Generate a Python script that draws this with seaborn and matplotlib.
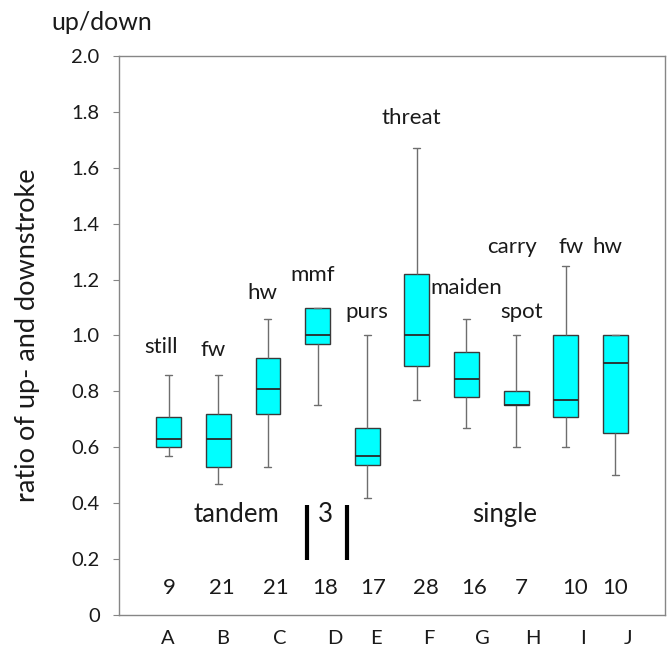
import numpy as np
import pandas as pd
import seaborn as sns
import matplotlib
matplotlib.use("Agg")
import matplotlib.pyplot as plt

# ---- data (five-number summaries) ----
categories = ["A", "B", "C", "D", "E", "F", "G", "H", "I", "J"]
lows  = [0.57, 0.47, 0.53, 0.75, 0.42, 0.77, 0.67, 0.60, 0.60, 0.50]
q1s   = [0.60, 0.53, 0.72, 0.97, 0.535, 0.89, 0.78, 0.75, 0.71, 0.65]
meds  = [0.63, 0.63, 0.81, 1.00, 0.57, 1.00, 0.845, 0.75, 0.77, 0.90]
q3s   = [0.71, 0.72, 0.92, 1.10, 0.67, 1.22, 0.94, 0.80, 1.00, 1.00]
highs = [0.86, 0.86, 1.06, 1.10, 1.00, 1.67, 1.06, 1.00, 1.25, 1.00]
counts = [9, 21, 21, 18, 17, 28, 16, 7, 10, 10]
behaviours = ["still", "fw", "hw", "mmf", "purs", "threat", "maiden", "spot", "carry", "fw", "hw"]
yticks = [0, 0.2, 0.4, 0.6, 0.8, 1.0, 1.2, 1.4, 1.6, 1.8, 2.0]
ytick_labels = ["0", "0.2", "0.4", "0.6", "0.8", "1.0", "1.2", "1.4", "1.6", "1.8", "2.0"]

rows = []
for c, a, b, m, d, e in zip(categories, lows, q1s, meds, q3s, highs):
    for v in (a, b, m, d, e):
        rows.append({"group": c, "ratio": v})
df = pd.DataFrame(rows)

# ---- layout (positions only) ----
beh_pos = [(-0.16, 0.959), (0.89, 0.948), (1.89, 1.152), (2.90, 1.216), (3.99, 1.084),
           (4.89, 1.778), (6.00, 1.170), (7.11, 1.084), (6.91, 1.317), (8.10, 1.317), (8.84, 1.317)]
count_x = [0.02, 1.07, 2.16, 3.15, 4.11, 5.19, 6.16, 7.11, 8.18, 9.0]
label_x = [-0.02, 1.09, 2.24, 3.35, 4.17, 5.24, 6.33, 7.34, 8.35, 9.25]

sns.set_style("white")
plt.rcParams["font.family"] = ["Lato", "DejaVu Sans"]
txt = "#1a1a1a"

fig = plt.figure(figsize=(6.69, 6.51), dpi=100)
ax = fig.add_axes([0.178, 0.0553, 0.816, 0.8587])

sns.boxplot(data=df, x="group", y="ratio", order=categories, whis=(0, 100),
            color="#00FFFF", saturation=1, width=0.5, linecolor="#3a3a3a",
            linewidth=1.0, fliersize=0, ax=ax,
            whiskerprops={"color": "#6e6e6e"}, capprops={"color": "#6e6e6e"},
            medianprops={"color": "#2a2a2a", "linewidth": 1.3},
            capwidths=0.14)

ax.set_xlim(-1, 10)
ax.set_ylim(0, 2.0)
ax.set_yticks(yticks)
ax.set_yticklabels(ytick_labels)
ax.set_xticks(label_x)
ax.set_xticklabels(categories)
ax.tick_params(axis="x", length=0, pad=11, labelsize=14.5, colors=txt)
ax.tick_params(axis="y", length=4, width=0.8, color="#868686", pad=10, labelsize=14.5,
               labelcolor=txt, direction="out", left=True)
ax.set_xlabel("")
ax.set_ylabel("ratio of up- and downstroke", fontsize=19.5, color=txt)
ax.yaxis.label.set_va("center")
ax.yaxis.set_label_coords(-0.168, 0.5)
for s in ax.spines.values():
    s.set_visible(True)
    s.set_color("#868686")
    s.set_linewidth(1.0)

for t, (x, y) in zip(behaviours, beh_pos):
    ax.text(x, y, t, ha="center", va="center", fontsize=16, color=txt)
for n, x in zip(counts, count_x):
    ax.text(x, 0.097, str(n), ha="center", va="center", fontsize=16, color=txt)

ax.text(1.37, 0.358, "tandem", ha="center", va="center", fontsize=18.5, color=txt)
ax.text(3.16, 0.358, "3", ha="center", va="center", fontsize=18.5, color=txt)
ax.text(6.77, 0.358, "single", ha="center", va="center", fontsize=18.5, color=txt)
ax.plot([2.78, 2.78], [0.197, 0.394], color="black", linewidth=3, solid_capstyle="butt")
ax.plot([3.585, 3.585], [0.197, 0.394], color="black", linewidth=3, solid_capstyle="butt")

fig.text(102 / 669, 1 - 22 / 651, "up/down", ha="center", va="center", fontsize=18, color=txt)

fig.savefig("out.png", dpi=100)
